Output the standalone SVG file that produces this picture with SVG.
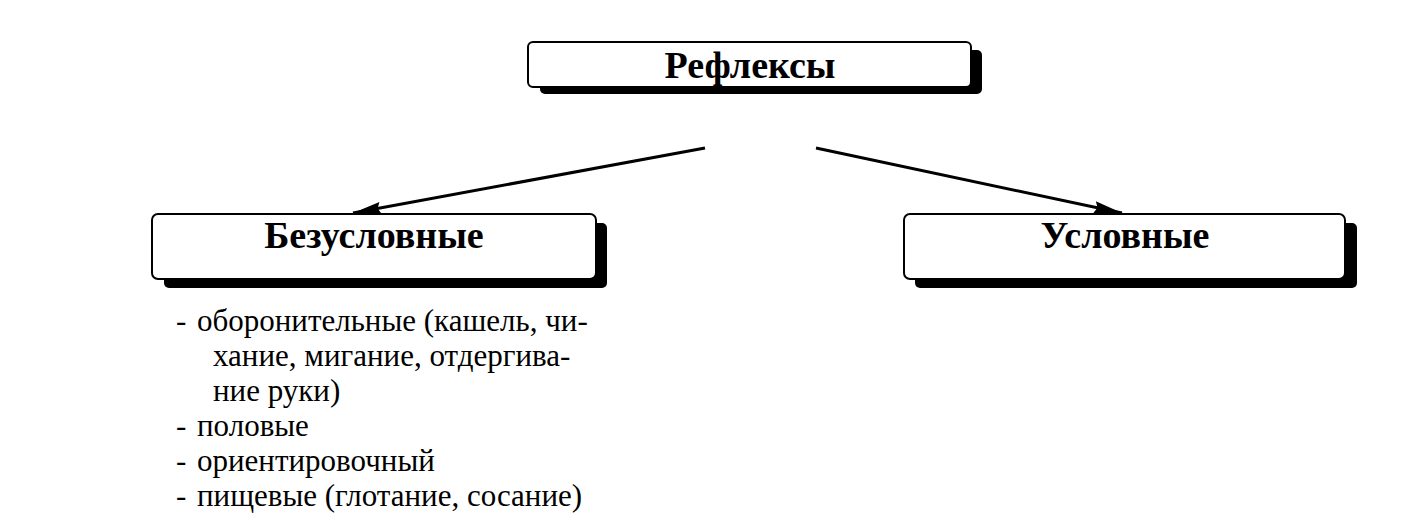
<svg xmlns="http://www.w3.org/2000/svg" width="1407" height="521" viewBox="0 0 1407 521">
<defs>
<style>
.shadow{fill:#000}
.box{fill:#fff;stroke:#000;stroke-width:2}
.title{font-family:"Liberation Serif","Times New Roman",serif;font-weight:bold;font-size:38px;text-anchor:middle;fill:#000}
.item{font-family:"Liberation Serif","Times New Roman",serif;font-size:31px;fill:#000}
.conn{stroke:#000;stroke-width:3;fill:none}
</style>
<marker id="arr" viewBox="0 0 28 12" refX="28" refY="6" markerWidth="28" markerHeight="12" markerUnits="userSpaceOnUse" orient="auto">
<path d="M0,0 L28,6 L0,12 L3,6 Z" fill="#000"/>
</marker>
</defs>
<rect width="1407" height="521" fill="#fff"/>
<g id="node-reflexes">
<rect class="shadow" x="540" y="50" width="442" height="44" rx="5"/>
<rect class="box" x="528" y="42" width="443" height="45" rx="5"/>
<text class="title" x="750" y="78">Рефлексы</text>
</g>
<g id="node-unconditioned">
<rect class="shadow" x="164" y="223" width="443" height="65" rx="5"/>
<rect class="box" x="152" y="214" width="444" height="65" rx="6"/>
<text class="title" x="374" y="248">Безусловные</text>
</g>
<g id="node-conditioned">
<rect class="shadow" x="915" y="223" width="442" height="65" rx="5"/>
<rect class="box" x="904" y="214" width="441" height="65" rx="6"/>
<text class="title" x="1125" y="248">Условные</text>
</g>
<g id="list-unconditioned">
<text class="item" x="176" y="331">-</text>
<text class="item" x="197" y="331">оборонительные (кашель, чи-</text>
<text class="item" x="213" y="366">хание, мигание, отдергива-</text>
<text class="item" x="213" y="401">ние руки)</text>
<text class="item" x="176" y="436">-</text>
<text class="item" x="197" y="436">половые</text>
<text class="item" x="176" y="471">-</text>
<text class="item" x="197" y="471">ориентировочный</text>
<text class="item" x="176" y="506">-</text>
<text class="item" x="197" y="506">пищевые (глотание, сосание)</text>
</g>
<g id="connectors">
<line class="conn" x1="705" y1="148" x2="353" y2="213" marker-end="url(#arr)"/>
<line class="conn" x1="816" y1="148" x2="1122" y2="213" marker-end="url(#arr)"/>
</g>
</svg>
